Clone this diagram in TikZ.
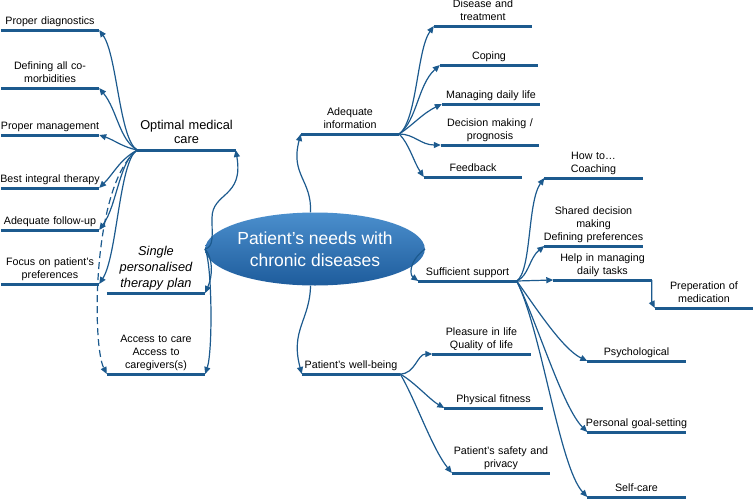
\documentclass[tikz,border=0pt]{standalone}
\usepackage{fontspec}
\setmainfont{Liberation Sans}
\usetikzlibrary{arrows.meta, positioning, shapes.geometric}
\definecolor{MapBlue}{HTML}{1C5A8E}
\definecolor{MapLight}{HTML}{4B8FCD}
\definecolor{MapDark}{HTML}{1E5C9C}
\colorlet{BarColour}{MapBlue}
\colorlet{LinkColour}{MapBlue}

\begin{document}
\begin{tikzpicture}[
        x=1pt, y=-1pt,
        topic/.style={anchor=south, align=center, text width=106pt, inner xsep=-4pt,
            inner ysep=1.1pt, execute at end node=\strut, font=\fontsize{10.7}{13}\selectfont},
        branch/.style={topic, inner ysep=1.6pt, font=\fontsize{12.8}{14.5}\selectfont},
        plan/.style={topic, inner ysep=0.2pt, font=\fontsize{12.8}{16}\selectfont\itshape},
        bar/.style={draw=BarColour, line width=3pt},
        link/.style={draw=LinkColour, line width=1.2pt, -{Triangle[length=7pt,width=6pt]}},
        centre/.style={ellipse, minimum width=180pt, minimum height=73pt, inner sep=0pt,
            top color=MapLight, bottom color=MapDark, text=white, align=center,
            font=\fontsize{17.5}{22}\selectfont}
    ]
    \useasboundingbox (0,0) rectangle (753,501);

    % Centre
    \node[centre] (ell) at (315,249) {Patient’s needs with\\chronic diseases};

    % Left branch
    \node[branch] (omc) at (186.5,150) {Optimal medical\\care};
    \node[topic] (diag) at (50,30) {Proper diagnostics};
    \node[topic] (comorb) at (50,88) {Defining all co-\\morbidities};
    \node[topic] (mgmt) at (50,135) {Proper management};
    \node[topic] (integ) at (50,188) {Best integral therapy};
    \node[topic] (follow) at (50,230) {Adequate follow-up};
    \node[topic] (focus) at (50,284) {Focus on patient's\\preferences};
    \node[plan] (spt) at (156,293) {Single\\personalised\\therapy plan};
    \node[topic] (access) at (156,374) {Access to care\\Access to\\caregivers(s)};

    % Right branches
    \node[topic] (ai) at (350,134) {Adequate\\information};
    \node[topic] (disease) at (483,26) {Disease and\\treatment};
    \node[topic] (coping) at (489,65) {Coping};
    \node[topic] (managing) at (491,104) {Managing daily life};
    \node[topic] (decision) at (490,145) {Decision making /\\prognosis};
    \node[topic] (feedback) at (473,177) {Feedback};

    \node[topic] (ss) at (467.5,281) {Sufficient support};
    \node[topic] (coach) at (593.5,178) {How to…\\Coaching};
    \node[topic] (shared) at (593.5,246) {Shared decision\\making\\Defining preferences};
    \node[topic] (help) at (602.5,280) {Help in managing\\daily tasks};
    \node[topic] (prep) at (704,308) {Preperation of\\medication};
    \node[topic] (psych) at (636.5,361) {Psychological};
    \node[topic] (goal) at (636.5,432) {Personal goal-setting};
    \node[topic] (selfcare) at (636.5,497) {Self-care};

    \node[topic] (pwb) at (351,374) {Patient’s well-being};
    \node[topic] (pleasure) at (481.5,354) {Pleasure in life\\Quality of life};
    \node[topic] (fitness) at (493.5,408) {Physical fitness};
    \node[topic] (safety) at (501,473) {Patient’s safety and\\privacy};

    % Main links
    \draw[link] (ell.west) .. controls (214,247) and (212,236) .. (212,218)
        .. controls (212,192) and (244,198) .. (omc.south east);
    \draw[link] (ell.west) .. controls (213,258) and (213,275) .. (spt.south east);
    \draw[link] (ell.west) .. controls (212,262) and (213,350) .. (access.south east);
    \draw[link, dashed, dash pattern=on 7pt off 4pt] (omc.south west)
        .. controls (92,185) and (92,345) .. (access.south west);
    \draw[link] (ell.97) .. controls (312,180) and (290,175) .. (ai.south west);
    \draw[link] (ell.263) .. controls (310,320) and (290,330) .. (pwb.south west);
    \draw[link] (ell.east) .. controls (408,262) and (410,275) .. (ss.south west);

    % Sub links
    \foreach \n/\a/\b/\c/\d in {diag/-18/-10/18/25, comorb/-18/-10/18/22, mgmt/-15/-3/15/5,
            integ/-18/10/15/-15, follow/-18/10/18/-25, focus/-18/10/18/-28}
        \draw[link] (omc.south west) .. controls +(\a,\b) and +(\c,\d) .. (\n.south east);
    \foreach \n/\a/\b/\c/\d in {disease/18/-14/-17/24, coping/18/-14/-22/20, managing/15/-10/-20/10,
            decision/15/0/-20/0, feedback/10/10/-10/-15}
        \draw[link] (ai.south east) .. controls +(\a,\b) and +(\c,\d) .. (\n.south west);
    \foreach \n/\a/\b/\c/\d in {coach/15/-10/-17/24, shared/12/-5/-15/12, psych/18/25/-25/-12,
            goal/20/40/-25/-25, selfcare/25/50/-28/-30}
        \draw[link] (ss.south east) .. controls +(\a,\b) and +(\c,\d) .. (\n.south west);
    \draw[link] (ss.south east) -- (help.south west);
    \draw[link] (help.south east) .. controls +(0,18) and +(-3,-6) .. (prep.south west);
    \foreach \n/\a/\b/\c/\d in {pleasure/15/0/-15/0, fitness/14/8/-14/-8, safety/15/25/-20/-25}
        \draw[link] (pwb.south east) .. controls +(\a,\b) and +(\c,\d) .. (\n.south west);

    % Bars under the topics
    \foreach \n in {omc, diag, comorb, mgmt, integ, follow, focus, spt, access,
        ai, disease, coping, managing, decision, feedback,
        ss, coach, shared, help, prep, psych, goal, selfcare,
        pwb, pleasure, fitness, safety}
        \draw[bar] (\n.south west) -- (\n.south east);
\end{tikzpicture}
\end{document}
